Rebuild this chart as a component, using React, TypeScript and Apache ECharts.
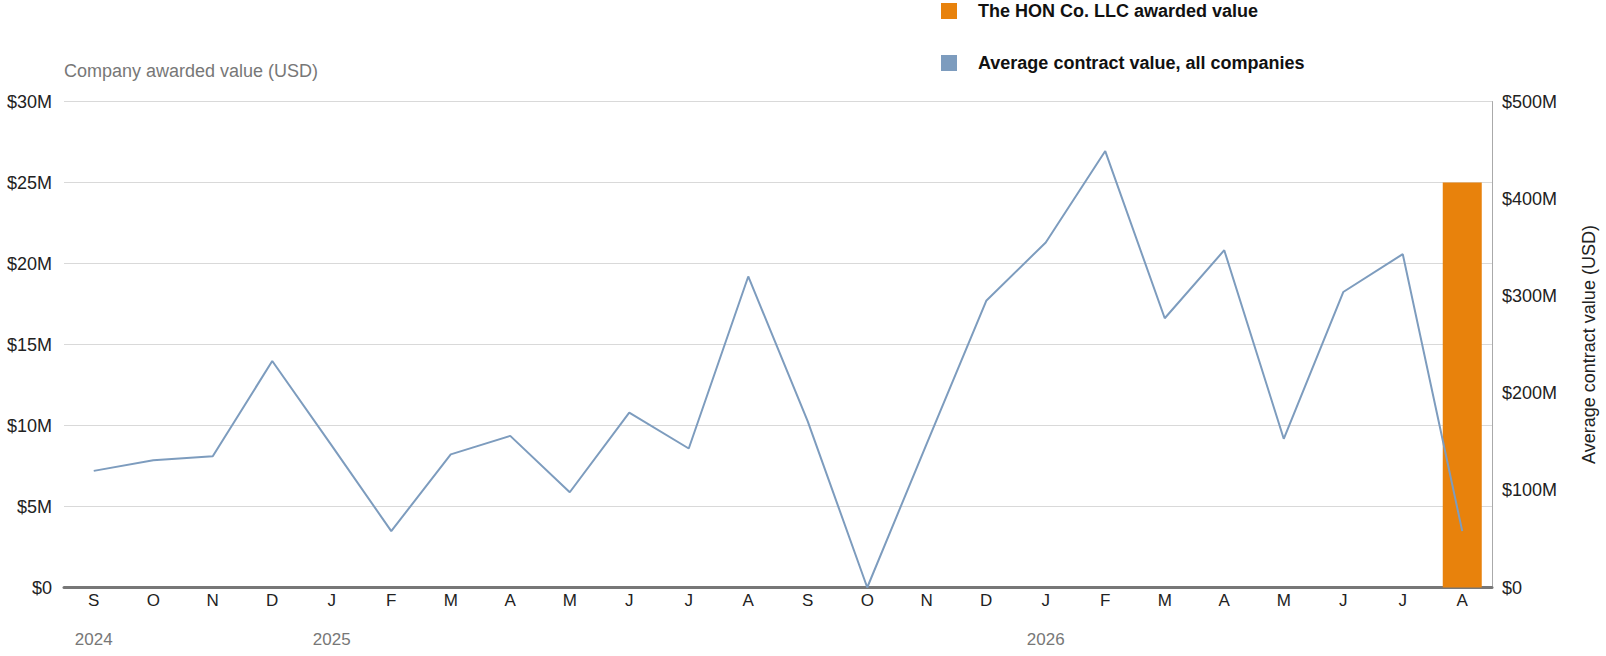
import { useEffect, useRef } from 'react'
import * as echarts from 'echarts'

// Months Sep 2024 .. Aug 2026
const months = ['S', 'O', 'N', 'D', 'J', 'F', 'M', 'A', 'M', 'J', 'J', 'A', 'S', 'O', 'N', 'D', 'J', 'F', 'M', 'A', 'M', 'J', 'J', 'A']
const yearLabels = ['2024', '', '', '', '2025', '', '', '', '', '', '', '', '', '', '', '', '2026', '', '', '', '', '', '', '']

// Company awarded value, $M (left axis)
const honAwarded = [null, null, null, null, null, null, null, null, null, null, null, null, null, null, null, null, null, null, null, null, null, null, null, 25]

// Average contract value, all companies, $M (right axis)
const avgContract = [120, 131, 135, 233, 146, 58, 137, 156, 98, 180, 143, 320, 171, 0, 148, 295, 355, 449, 277, 347, 153, 304, 343, 58]

const leftTicks = { min: 0, max: 30, interval: 5 }
const rightTicks = { min: 0, max: 500, interval: 100 }

const FONT = "'Liberation Sans', Arial, sans-serif"

const App = () => {
  const ref = useRef<HTMLDivElement | null>(null)

  useEffect(() => {
    document.body.style.margin = '0'
    if (!ref.current) return
    const chart = echarts.init(ref.current, null, { renderer: 'svg' })

    const money = (v: number) => `$${v}${v === 0 ? '' : 'M'}`

    chart.setOption({
      animation: false,
      backgroundColor: '#fff',
      textStyle: { fontFamily: FONT },
      legend: {
        orient: 'vertical',
        left: 936,
        top: -3,
        icon: 'rect',
        itemWidth: 16,
        itemHeight: 16,
        itemGap: 34,
        selectedMode: false,
        data: ['The HON Co. LLC awarded value', 'Average contract value, all companies'],
        textStyle: {
          fontFamily: FONT,
          fontSize: 18,
          fontWeight: 'bold',
          color: '#111',
          padding: [0, 0, 0, 16],
          lineHeight: 16
        }
      },
      grid: { left: 64, right: 112, top: 101.5, bottom: 68.5 },
      xAxis: [
        {
          type: 'category',
          data: months,
          position: 'bottom',
          axisLine: { show: true, lineStyle: { color: '#777', width: 3 } },
          axisTick: { show: false },
          axisLabel: { interval: 0, margin: 4, color: '#222', fontSize: 17, fontFamily: FONT }
        },
        {
          type: 'category',
          data: yearLabels,
          position: 'bottom',
          axisLine: { show: false },
          axisTick: { show: false },
          axisLabel: { interval: 0, margin: 43, color: '#777', fontSize: 17, fontFamily: FONT }
        }
      ],
      yAxis: [
        {
          type: 'value',
          ...leftTicks,
          position: 'left',
          name: 'Company awarded value (USD)',
          nameLocation: 'end',
          nameGap: 22,
          nameTextStyle: { align: 'left', color: '#777', fontSize: 18, fontFamily: FONT },
          axisLine: { show: false },
          axisTick: { show: false },
          axisLabel: { formatter: money, color: '#222', fontSize: 18, margin: 12, fontFamily: FONT },
          splitLine: { show: true, lineStyle: { color: '#d9d9d9', width: 1 } }
        },
        {
          type: 'value',
          ...rightTicks,
          position: 'right',
          name: 'Average contract value (USD)',
          nameLocation: 'middle',
          nameRotate: 90,
          nameGap: 88,
          nameTextStyle: { color: '#222', fontSize: 18, fontFamily: FONT },
          axisLine: { show: true, lineStyle: { color: '#aaa', width: 1 } },
          axisTick: { show: false },
          axisLabel: { formatter: money, color: '#222', fontSize: 18, margin: 10, fontFamily: FONT },
          splitLine: { show: false }
        }
      ],
      series: [
        {
          name: 'The HON Co. LLC awarded value',
          type: 'bar',
          xAxisIndex: 0,
          yAxisIndex: 0,
          data: honAwarded,
          barWidth: 39,
          itemStyle: { color: '#E8820C' },
          z: 2
        },
        {
          name: 'Average contract value, all companies',
          type: 'line',
          xAxisIndex: 0,
          yAxisIndex: 1,
          data: avgContract,
          showSymbol: false,
          symbol: 'none',
          itemStyle: { color: '#7d9cbe' },
          lineStyle: { color: '#7d9cbe', width: 2 },
          z: 3
        }
      ]
    })

    return () => chart.dispose()
  }, [])

  return <div ref={ref} style={{ width: 1606, height: 656 }} />
}

export default App
